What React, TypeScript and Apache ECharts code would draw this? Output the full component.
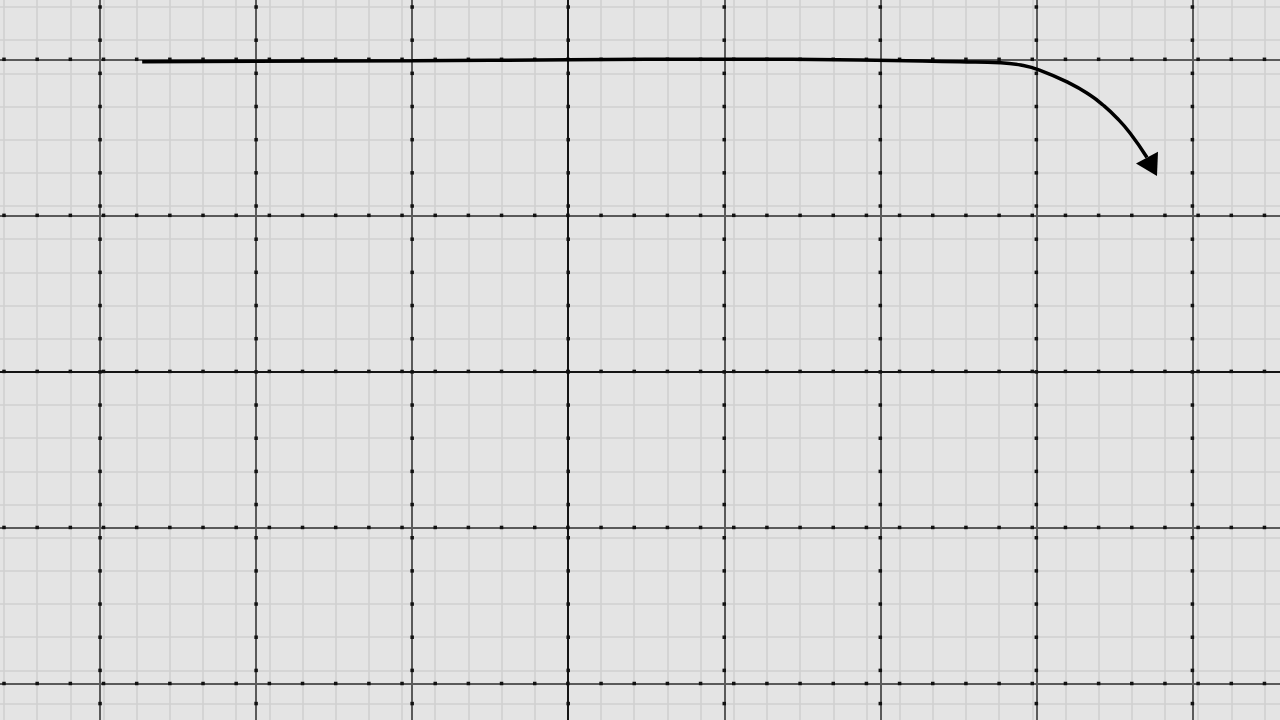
import { FC, useEffect, useRef } from "react";
import * as echarts from "echarts";

// 曲线数据（坐标单位 = 一个大格）
const pathX = [-2.73, -1.0, 0, 1.0, 1.87, 2.51, 2.77, 2.9, 3.02, 3.215, 3.343, 3.427, 3.516, 3.6, 3.709];
const pathY = [1.985, 1.991, 1.997, 2.001, 1.996, 1.984, 1.978, 1.963, 1.931, 1.846, 1.771, 1.707, 1.624, 1.528, 1.371];
// 箭头位置与方向
const arrowX = [3.741];
const arrowY = [1.311];
const arrowRotate = -151.6;

// 大格刻度
const majorXTicks = [-3, -2, -1, 0, 1, 2, 3, 4];
const majorYTicks = [-2, -1, 0, 1, 2];

// 网格尺寸（像素）
const W = 1280;
const H = 720;
const MAJOR = 156.05;
const MINOR = 33.17;
const ORIGIN_X = 568.2;
const ORIGIN_Y = 371.4;
const MINOR_X0 = 4;
const MINOR_Y0 = 7;
const MINOR_X_COUNT = 39;
const MINOR_Y_COUNT = 22;

const App: FC = () => {
    const chartRef = useRef<HTMLDivElement>(null);

    useEffect(() => {
        if (!chartRef.current) return;
        const chart = echarts.init(chartRef.current, undefined, { renderer: "svg" });

        // 大格线上的小点：落在小格线交叉处
        const dots: [number, number][] = [];
        majorXTicks.forEach((i) => {
            for (let k = 0; k < MINOR_Y_COUNT; k++) {
                const py = MINOR_Y0 + k * MINOR;
                dots.push([i, (ORIGIN_Y - py) / MAJOR]);
            }
        });
        majorYTicks.forEach((j) => {
            for (let k = 0; k < MINOR_X_COUNT; k++) {
                const px = MINOR_X0 + k * MINOR;
                dots.push([(px - ORIGIN_X) / MAJOR, j]);
            }
        });

        const majorColor = "#5a5a5a";
        const axisColor = "#141414";
        const xColors = majorXTicks.map((v) => (v === 0 ? axisColor : majorColor));
        const yColors = majorYTicks.map((v) => (v === 0 ? axisColor : majorColor));

        const hidden = {
            axisLabel: { show: false },
            axisTick: { show: false },
            axisLine: { show: false },
            minInterval: 1,
            maxInterval: 1,
        };
        const edge = { showMinLine: false, showMaxLine: false };

        const option = {
            animation: false,
            backgroundColor: "#e4e4e4",
            grid: [
                { left: 0, top: 0, width: W, height: H },
                { left: 0, top: 0, width: W, height: H },
            ],
            xAxis: [
                {
                    type: "value",
                    gridIndex: 0,
                    min: (0 - ORIGIN_X) / MAJOR,
                    max: (W - ORIGIN_X) / MAJOR,
                    z: 2,
                    ...hidden,
                    splitLine: { show: true, ...edge, lineStyle: { color: xColors, width: 2 } },
                },
                {
                    type: "value",
                    gridIndex: 1,
                    min: (0 - MINOR_X0) / MINOR,
                    max: (W - MINOR_X0) / MINOR,
                    z: 1,
                    ...hidden,
                    splitLine: { show: true, ...edge, lineStyle: { color: "#d0d0d0", width: 1.6 } },
                },
            ],
            yAxis: [
                {
                    type: "value",
                    gridIndex: 0,
                    min: (ORIGIN_Y - H) / MAJOR,
                    max: ORIGIN_Y / MAJOR,
                    z: 2,
                    ...hidden,
                    splitLine: { show: true, ...edge, lineStyle: { color: yColors, width: 2 } },
                },
                {
                    type: "value",
                    gridIndex: 1,
                    inverse: true,
                    min: (0 - MINOR_Y0) / MINOR,
                    max: (H - MINOR_Y0) / MINOR,
                    z: 1,
                    ...hidden,
                    splitLine: { show: true, ...edge, lineStyle: { color: "#d0d0d0", width: 1.6 } },
                },
            ],
            series: [
                {
                    type: "scatter",
                    xAxisIndex: 0,
                    yAxisIndex: 0,
                    symbol: "rect",
                    symbolSize: 3.5,
                    itemStyle: { color: "#111", opacity: 1 },
                    data: dots,
                    silent: true,
                    z: 4,
                },
                {
                    type: "line",
                    xAxisIndex: 0,
                    yAxisIndex: 0,
                    data: pathX.map((x, i) => [x, pathY[i]]),
                    smooth: 0.5,
                    symbol: "none",
                    lineStyle: { color: "#000", width: 3.5 },
                    silent: true,
                    z: 5,
                },
                {
                    type: "scatter",
                    xAxisIndex: 0,
                    yAxisIndex: 0,
                    symbol: "triangle",
                    symbolSize: [25, 21],
                    symbolRotate: arrowRotate,
                    itemStyle: { color: "#000", opacity: 1 },
                    data: arrowX.map((x, i) => [x, arrowY[i]]),
                    silent: true,
                    z: 6,
                },
            ],
        };

        chart.setOption(option);

        return () => {
            chart.dispose();
        };
    }, []);

    return (
        <div
            ref={chartRef}
            style={{ position: "fixed", left: 0, top: 0, width: W, height: H }}
        />
    );
};

export default App;
